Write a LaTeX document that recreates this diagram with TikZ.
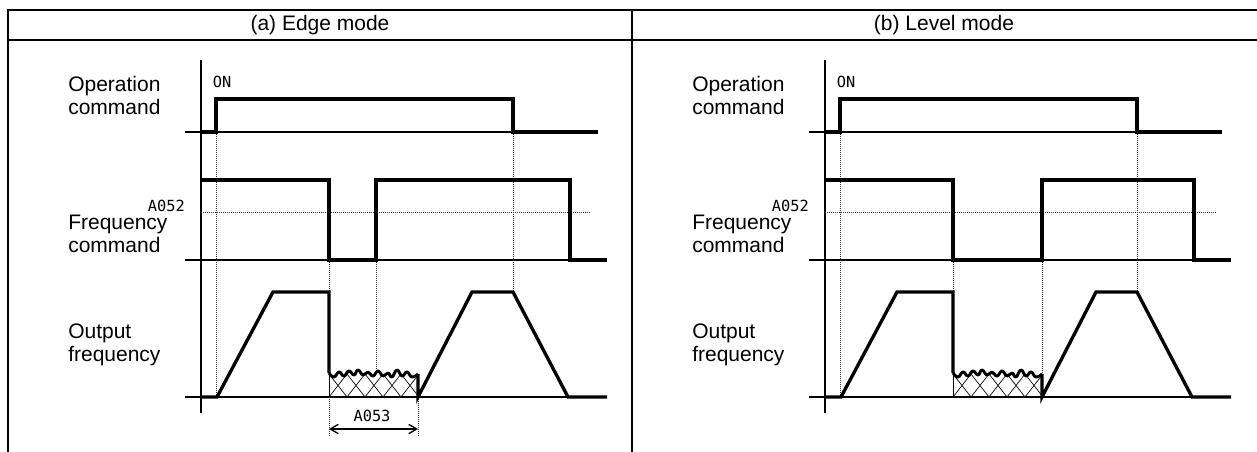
\documentclass[tikz,border=0pt]{standalone}
\usepackage{fontspec}
\setmainfont{Liberation Sans}
\newfontfamily\tagfont{DejaVu Sans Mono}
\usetikzlibrary{arrows.meta}
\tikzset{
  frameline/.style={line width=1.5pt},
  axisline/.style={line width=0.9pt},
  sigline/.style={line width=2.5pt, line join=miter},
  guide/.style={line width=0.6pt, dash pattern=on 0.6pt off 0.9pt, black!80},
  hatch/.style={line width=0.5pt},
  wave/.style={line width=2.2pt, line join=round},
  sigtext/.style={font=\fontsize{15.75}{17.25}\selectfont, align=left,
    anchor=west, inner sep=0pt},
  heading/.style={font=\fontsize{15.75}{17.25}\selectfont, inner sep=0pt},
  tag/.style={font=\tagfont\fontsize{11.5}{13}\selectfont, inner sep=0pt},
  span/.style={{Straight Barb[length=6pt,width=7pt]}-{Straight Barb[length=6pt,width=7pt]},
    line width=1pt}
}

\begin{document}
\begin{tikzpicture}[x=0.75pt, y=-0.75pt]
  \useasboundingbox (0,0) rectangle (1257,452);
  % frame and headings
  \draw[frameline] (8,452) -- (8,10) -- (1257,10);
  \draw[frameline] (8,40) -- (1257,40);
  \draw[frameline] (632,10) -- (632,452);
  \node[heading] (headA) at (320,25) {(a) Edge mode};
  \node[heading] (headB) at (944,25) {(b) Level mode};

  % (a) edge mode
  \node[sigtext] (opA) at (68,95) {Operation\\command};
  \node[sigtext] (freqA) at (68,234) {Frequency\\command};
  \node[sigtext] (outA) at (68,345) {Output\\frequency};
  \node[tag, anchor=east] (levelA) at (185,206) {A052};
  \node[tag] (onA) at (222,82) {ON};
  \draw[axisline] (201,60) -- (201,413);
  \draw[axisline] (185,132) -- (598,132);
  \draw[axisline] (185,260) -- (607,260);
  \draw[axisline] (185,397) -- (607,397);
  \draw[guide] (201,212) -- (590,212);
  \draw[guide] (216,132) -- (216,397);
  \draw[guide] (513,132) -- (513,292);
  \draw[guide] (329,260) -- (329,292);
  \draw[guide] (376,260) -- (376,372);
  \draw[guide] (329,397) -- (329,436);
  \draw[guide] (418,397) -- (418,436);
  \begin{scope}
    \clip (329,374) rectangle (418,397);
    \foreach \k in {0,...,4} {
      \draw[hatch] (329+18*\k,397) -- ++(18,-23);
      \draw[hatch] (347+18*\k,397) -- ++(-18,-23);
    }
  \end{scope}
  \draw[hatch] (329,372) -- (329,397);
  \draw[sigline] (201,132) -- (216,132) -- (216,99) -- (513,99) -- (513,132) -- (598,132);
  \draw[sigline] (201,180) -- (329,180) -- (329,260) -- (376,260) -- (376,180)
    -- (570,180) -- (570,260) -- (607,260);
  \draw[sigline] (201,397) -- (217,397) -- (273,292) -- (329,292) -- (329,373);
  \draw[wave] plot[smooth, tension=0.8] coordinates {(329,373) (334,377) (339,372)
    (344,376) (349,371) (354,375) (358,370) (363,375) (368,372) (373,376) (378,371)
    (383,376) (388,373) (392,377) (397,370) (402,376) (407,372) (412,377) (418,374)};
  \draw[sigline] (418,374) -- (418,397) -- (472,292) -- (513,292) -- (568,397) -- (607,397);
  \node[tag] (timeA) at (372,416) {A053};
  \coordinate (spanL) at (329,429);
  \coordinate (spanR) at (418,429);
  \draw[span] (spanL) -- (spanR);

  % (b) level mode
  \begin{scope}[shift={(624,0)}]
    \node[sigtext] (opB) at (68,95) {Operation\\command};
    \node[sigtext] (freqB) at (68,234) {Frequency\\command};
    \node[sigtext] (outB) at (68,345) {Output\\frequency};
    \node[tag, anchor=east] (levelB) at (185,206) {A052};
    \node[tag] (onB) at (222,82) {ON};
    \draw[axisline] (201,60) -- (201,413);
    \draw[axisline] (185,132) -- (598,132);
    \draw[axisline] (185,260) -- (607,260);
    \draw[axisline] (185,397) -- (607,397);
    \draw[guide] (201,212) -- (592,212);
    \draw[guide] (216,132) -- (216,397);
    \draw[guide] (513,132) -- (513,292);
    \draw[guide] (329,260) -- (329,292);
    \draw[guide] (418,260) -- (418,374);
    \begin{scope}
      \clip (329,374) rectangle (418,397);
      \foreach \k in {0,...,4} {
        \draw[hatch] (329+18*\k,397) -- ++(18,-23);
        \draw[hatch] (347+18*\k,397) -- ++(-18,-23);
      }
    \end{scope}
    \draw[hatch] (329,372) -- (329,397);
    \draw[sigline] (201,132) -- (216,132) -- (216,99) -- (513,99) -- (513,132) -- (598,132);
    \draw[sigline] (201,180) -- (329,180) -- (329,260) -- (418,260) -- (418,180)
      -- (570,180) -- (570,260) -- (607,260);
    \draw[sigline] (201,397) -- (217,397) -- (273,292) -- (329,292) -- (329,373);
    \draw[wave] plot[smooth, tension=0.8] coordinates {(329,373) (334,377) (339,372)
      (344,376) (349,371) (354,375) (358,370) (363,375) (368,372) (373,376) (378,371)
      (383,376) (388,373) (392,377) (397,370) (402,376) (407,372) (412,377) (418,374)};
    \draw[sigline] (418,374) -- (418,397) -- (472,292) -- (513,292) -- (568,397) -- (607,397);
  \end{scope}
\end{tikzpicture}
\end{document}
